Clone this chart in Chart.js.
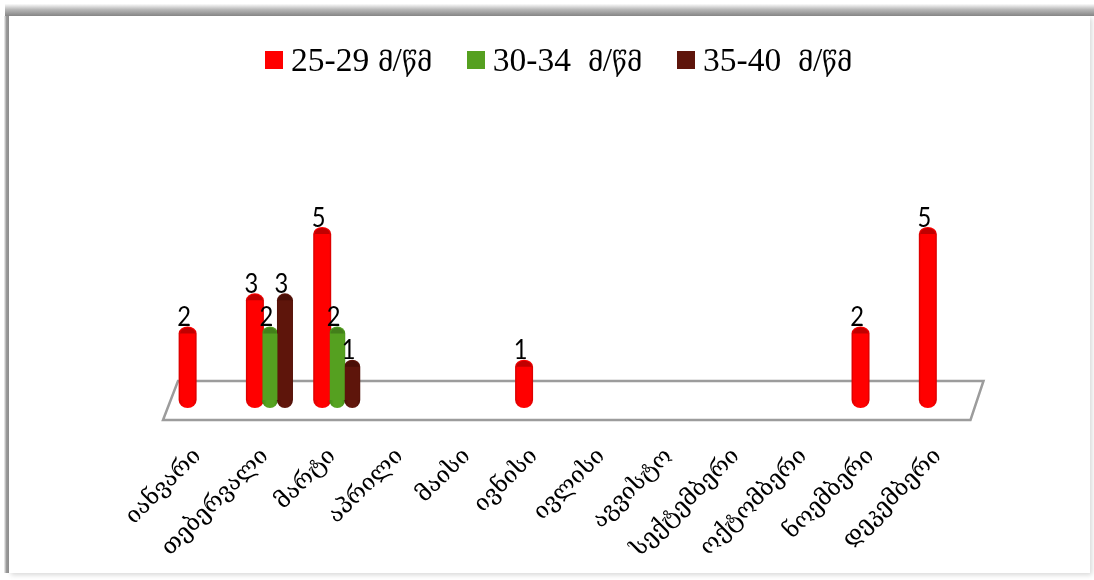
<!DOCTYPE html>
<html>
<head>
<meta charset="utf-8">
<script src="https://cdn.jsdelivr.net/npm/chart.js@4"></script>
<style>
    /* Georgian letters run smaller than the Latin digits beside them */
    @font-face {
        font-family: "LegendGeorgian";
        src: local("DejaVu Serif");
        unicode-range: U+10A0-10FF;
        size-adjust: 79%;
    }
    html, body { margin: 0; padding: 0; background: #fff; width: 1094px; height: 580px; overflow: hidden; }
    #frame {
        position: absolute; left: 9px; top: 16px; width: 1081px; height: 557px;
        box-shadow: 2px 2px 5px #d8d8d8;
        background: #fff;
    }
    #edgeTop {
        position: absolute; left: 5px; top: 4px; width: 1089px; height: 12px;
        background: linear-gradient(to bottom, #fbfbfb, #b8b8b8 45%, #858585);
    }
    #edgeLeft {
        position: absolute; left: 4px; top: 16px; width: 5px; height: 557px;
        background: linear-gradient(to right, #f4f4f4, #9a9a9a 50%, #8c8c8c);
    }
    #chartBox { position: absolute; left: 0; top: 0; width: 1094px; height: 580px; }
    #legend {
        position: absolute; left: 265px; top: 38px; display: flex; align-items: center;
        font-family: "LegendGeorgian", "Liberation Serif", serif; font-size: 33.5px; color: #000;
        white-space: pre; line-height: 44px;
    }
    #legend .item { display: flex; align-items: center; margin-right: 35px; }
    #legend .box { width: 18px; height: 18px; margin-right: 8px; }
</style>
</head>
<body>
<div id="frame"></div>
<div id="edgeTop"></div>
<div id="edgeLeft"></div>
<div id="chartBox"><canvas id="barChart" width="1094" height="580"></canvas></div>
<div id="legend"></div>
<script>
var months = ['იანვარი', 'თებერვალი', 'მარტი', 'აპრილი', 'მაისი', 'ივნისი', 'ივლისი',
    'აგვისტო', 'სექტემბერი', 'ოქტომბერი', 'ნოემბერი', 'დეკემბერი'];
var seriesNames = ['25-29 მ/წმ', '30-34  მ/წმ', '35-40  მ/წმ'];
var age25to29 = [2, 3, 5, 0, 0, 1, 0, 0, 0, 0, 2, 5];
var age30to34 = [0, 2, 2, 0, 0, 0, 0, 0, 0, 0, 0, 0];
var age35to40 = [0, 3, 1, 0, 0, 0, 0, 0, 0, 0, 0, 0];

// body edge, body centre, top cap
var cylinderColors = [
    ['#d90000', '#ff0000', '#c00000'],
    ['#428a17', '#55a320', '#437f1a'],
    ['#4c0f07', '#62170c', '#4a0f07']
];
var cylinderWidths = [18, 16, 16];

// the slanted floor under the bars
var floorPlugin = {
    id: 'floor',
    beforeDatasetsDraw: function (chart) {
        var ctx = chart.ctx;
        var zero = chart.scales.y.getPixelForValue(0);
        var area = chart.chartArea;
        ctx.save();
        ctx.beginPath();
        ctx.moveTo(area.left - 6, zero + 20);
        ctx.lineTo(area.right - 6, zero + 20);
        ctx.lineTo(area.right + 7, zero - 19);
        ctx.lineTo(area.left + 9, zero - 19);
        ctx.closePath();
        ctx.strokeStyle = '#9c9c9c';
        ctx.lineWidth = 2.5;
        ctx.stroke();
        ctx.restore();
    }
};

// draws the bar elements as cylinders, with the value above each one
var cylinderPlugin = {
    id: 'cylinders',
    beforeDatasetsDraw: function (chart) {
        var ctx = chart.ctx;
        chart.data.datasets.forEach(function (ds, i) {
            var colors = cylinderColors[i];
            var rx = cylinderWidths[i] / 2;
            chart.getDatasetMeta(i).data.forEach(function (bar, j) {
                if (!ds.data[j]) return;
                var ry = 7;
                var grad = ctx.createLinearGradient(bar.x - rx, 0, bar.x + rx, 0);
                grad.addColorStop(0, colors[0]);
                grad.addColorStop(0.3, colors[1]);
                grad.addColorStop(0.75, colors[1]);
                grad.addColorStop(1, colors[0]);
                ctx.save();
                ctx.beginPath();
                ctx.moveTo(bar.x - rx, bar.y);
                ctx.lineTo(bar.x - rx, bar.base);
                ctx.ellipse(bar.x, bar.base, rx, ry + 1, 0, Math.PI, 0, true);
                ctx.lineTo(bar.x + rx, bar.y);
                ctx.ellipse(bar.x, bar.y, rx, ry, 0, 0, Math.PI, true);
                ctx.closePath();
                ctx.fillStyle = grad;
                ctx.fill();
                ctx.beginPath();
                ctx.ellipse(bar.x, bar.y, rx - 1.5, ry - 1, 0, 0, Math.PI * 2);
                ctx.fillStyle = colors[2];
                ctx.fill();
                ctx.restore();
            });
        });
    },
    afterDatasetsDraw: function (chart) {
        var ctx = chart.ctx;
        ctx.save();
        ctx.font = '27px Lato';
        ctx.fillStyle = '#000';
        ctx.textAlign = 'center';
        ctx.textBaseline = 'middle';
        chart.data.datasets.forEach(function (ds, i) {
            chart.getDatasetMeta(i).data.forEach(function (bar, j) {
                if (!ds.data[j]) return;
                // digits are squeezed a little to stay narrow over the cylinders
                ctx.save();
                ctx.translate(bar.x - 3.5, bar.y - 16);
                ctx.scale(0.88, 1);
                ctx.fillText(ds.data[j], 0, 0);
                ctx.restore();
            });
        });
        ctx.restore();
    }
};

var barChart = new Chart(document.getElementById('barChart'), {
    type: 'bar',
    data: {
        labels: months,
        datasets: [
            { label: seriesNames[0], data: age25to29, backgroundColor: '#ff0000' },
            { label: seriesNames[1], data: age30to34, backgroundColor: '#55a020' },
            { label: seriesNames[2], data: age35to40, backgroundColor: '#5e150b' }
        ]
    },
    options: {
        responsive: false,
        animation: false,
        categoryPercentage: 0.67,
        barPercentage: 1,
        layout: { padding: { left: 169, right: 117.5, top: 101, bottom: 0 } },
        plugins: {
            legend: { display: false },
            tooltip: { enabled: false }
        },
        scales: {
            x: {
                grid: { display: false },
                border: { display: false },
                afterFit: function (scale) { scale.height = 180; },
                ticks: {
                    minRotation: 45,
                    maxRotation: 45,
                    autoSkip: false,
                    padding: 35,
                    labelOffset: -5,
                    color: '#000',
                    font: { family: '"DejaVu Serif", "DejaVu Sans"', size: 23 }
                }
            },
            y: {
                display: false,
                min: 0,
                max: 9
            }
        }
    },
    plugins: [floorPlugin, cylinderPlugin]
});

// legend row above the chart
barChart.data.datasets.forEach(function (ds) {
    var item = document.createElement('div');
    item.className = 'item';
    var box = document.createElement('div');
    box.className = 'box';
    box.style.background = ds.backgroundColor;
    var text = document.createElement('span');
    text.textContent = ds.label;
    item.appendChild(box);
    item.appendChild(text);
    document.getElementById('legend').appendChild(item);
});
</script>
</body>
</html>
